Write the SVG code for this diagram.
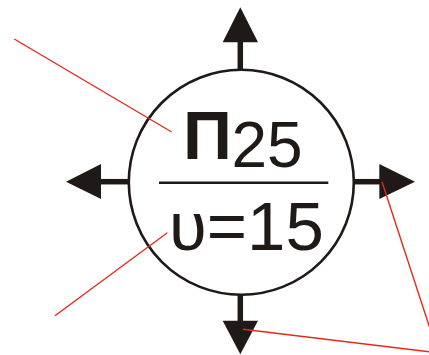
<svg xmlns="http://www.w3.org/2000/svg" width="429" height="355" viewBox="0 0 429 355">
<style>
.k{fill:#1f1a17}
.s{stroke:#1f1a17;fill:none}
.r{stroke:#e42a1d;stroke-width:1.4;fill:none}
.t{font-family:"Liberation Sans",Arial,sans-serif;fill:#1f1a17}
</style>
<rect width="429" height="355" fill="#fff"/>
<g id="node">
<circle class="s" cx="241.3" cy="182.3" r="112.5" stroke-width="2.6" fill="#fff"/>
<line class="s" x1="159" y1="182.7" x2="328.3" y2="182.7" stroke-width="2.6"/>
<text class="t" y="159" font-size="68" font-weight="bold"><tspan x="183">П</tspan></text>
<text class="t" y="166.5" font-size="64"><tspan x="231.5">25</tspan></text>
<text class="t" y="250" font-size="69"><tspan x="169">υ=15</tspan></text>
</g>
<g id="arrows">
<line class="s" x1="240.3" y1="42" x2="240.3" y2="70" stroke-width="5.5"/>
<polygon class="k" points="240.3,7.3 258,42.3 222.7,42.3"/>
<line class="s" x1="240.3" y1="294.5" x2="240.3" y2="321" stroke-width="5.5"/>
<polygon class="k" points="240.3,354.3 258,320.7 222.7,320.7"/>
<line class="s" x1="100" y1="181.7" x2="129" y2="181.7" stroke-width="5.5"/>
<polygon class="k" points="66,181.7 101,164 101,199"/>
<line class="s" x1="353.5" y1="181.7" x2="380" y2="181.7" stroke-width="5.5"/>
<polygon class="k" points="415,181.7 379.3,164 379.3,199"/>
</g>
<g id="connectors">
<line class="r" x1="14.3" y1="39" x2="171.7" y2="132"/>
<line class="r" x1="55" y1="315.7" x2="167.3" y2="232.7"/>
<line class="r" x1="382" y1="181.7" x2="429.5" y2="327"/>
<line class="r" x1="243" y1="329.3" x2="429.5" y2="351.8"/>
</g>
</svg>
